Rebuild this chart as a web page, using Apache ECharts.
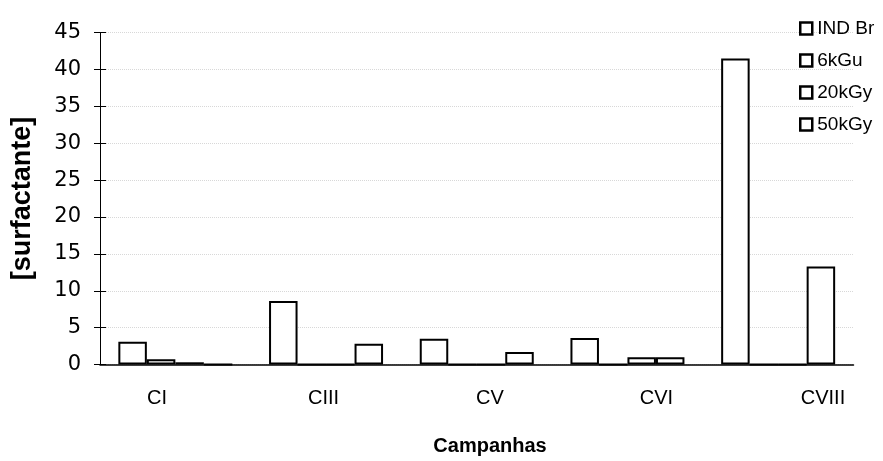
<!DOCTYPE html>
<html>
<head>
<meta charset="utf-8">
<script src="https://cdn.jsdelivr.net/npm/echarts@6/dist/echarts.min.js"></script>
<style>html,body{margin:0;padding:0;background:#fff;}#c{width:883px;height:461px;}</style>
</head>
<body>
<div id="c"></div>
<script>
var categories = ['CI', 'CIII', 'CV', 'CVI', 'CVIII'];
var seriesNames = ['IND Br', '6kGu', '20kGy', '50kGy'];
var indBr = [3.1, 8.6, 3.5, 3.6, 41.5];
var kGu6 = [0.7, 0, 0, 0, 0];
var kGy20 = [0.3, 0, 0, 1.0, 0];
var kGy50 = [0, 2.8, 1.7, 1.0, 13.3];
var yTicks = [0, 5, 10, 15, 20, 25, 30, 35, 40, 45];

var font = '"Liberation Sans", Arial, sans-serif';
var numFont = '"DejaVu Sans", sans-serif';
var values = [indBr, kGu6, kGy20, kGy50];
var series = seriesNames.map(function (n, i) {
  return {
    name: n, type: 'bar', xAxisIndex: 0, yAxisIndex: 0,
    data: values[i], barWidth: 28.5, barGap: '0%',
    itemStyle: { color: '#fff', borderColor: '#000', borderWidth: 2 },
    emphasis: { disabled: true }, animation: false
  };
});

var chart = echarts.init(document.getElementById('c'), null, { renderer: 'canvas' });
chart.setOption({
  animation: false,
  backgroundColor: '#fff',
  legend: {
    data: seriesNames, orient: 'vertical', left: 794, top: 14,
    itemWidth: 12, itemHeight: 12, itemGap: 13, icon: 'rect',
    textStyle: { fontFamily: font, fontSize: 19, color: '#000', padding: [0, 0, 0, 0] },
    itemStyle: { color: '#fff', borderColor: '#000', borderWidth: 2.5 }
  },
  grid: [
    { left: 100, top: 32.7, width: 753.5, bottom: 96.5, containLabel: false },
    { left: 157, top: 32.7, width: 666, bottom: 96.5, containLabel: false }
  ],
  xAxis: [
    { type: 'category', gridIndex: 0, data: categories,
      axisLine: { show: true, lineStyle: { color: '#000', width: 1.5 } },
      axisTick: { show: false }, axisLabel: { show: false } },
    { type: 'category', gridIndex: 1, data: categories, boundaryGap: false,
      axisLine: { show: false }, axisTick: { show: false },
      axisLabel: { fontFamily: font, fontSize: 20, color: '#000', margin: 38 },
      name: 'Campanhas', nameLocation: 'middle', nameGap: 86,
      nameTextStyle: { fontFamily: font, fontSize: 20, fontWeight: 'bold', color: '#000' } }
  ],
  yAxis: [
    { type: 'value', gridIndex: 0, min: 0, max: 45, interval: 5,
      axisLine: { show: true, lineStyle: { color: '#000', width: 1 } },
      axisTick: { show: true, length: 6, lineStyle: { color: '#000' } },
      axisLabel: { fontFamily: numFont, fontSize: 21, color: '#000', margin: 19 },
      splitLine: { show: true, lineStyle: { color: '#d8d8d8', type: 'dotted', width: 1 } },
      name: '[surfactante]', nameLocation: 'middle', nameGap: 64,
      nameTextStyle: { fontFamily: font, fontSize: 27, fontWeight: 'bold', color: '#000' } },
    { type: 'value', gridIndex: 1, min: 0, max: 45, show: false },
    { type: 'value', gridIndex: 0, min: 0, max: 45, interval: 5, position: 'left',
      axisLine: { show: false }, axisLabel: { show: false }, splitLine: { show: false },
      axisTick: { show: true, inside: true, length: 6, lineStyle: { color: '#000' } } }
  ],
  series: series
});
</script>
</body>
</html>
